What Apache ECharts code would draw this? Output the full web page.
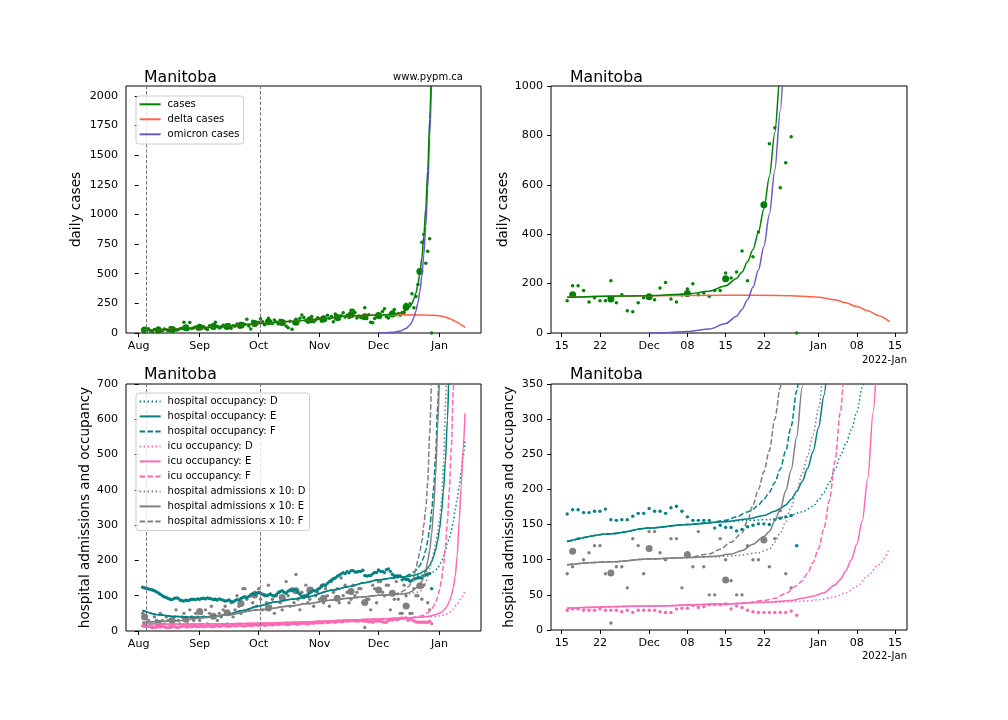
<!DOCTYPE html>
<html><head><meta charset="utf-8">
<script src="https://cdn.jsdelivr.net/npm/echarts@6/dist/echarts.min.js"></script>
<style>html,body{margin:0;padding:0;background:#fff}#c{width:1008px;height:720px}</style>
</head><body><div id="c"></div>
<script>
// day index: 0 = 2021-08-01
const dataStartDay = 2; // 2021-08-03
const rightFromDay = 107; // 2021-11-16

const leftTickDays = [0, 31, 61, 92, 122, 153];
const leftTickLabels = ['Aug', 'Sep', 'Oct', 'Nov', 'Dec', 'Jan'];
const rightTickDays = [106, 113, 122, 129, 136, 143, 153, 160, 167];
const rightTickLabels = ['15', '22', 'Dec', '08', '15', '22', 'Jan', '08', '15'];
const casesTicks = [0, 250, 500, 750, 1000, 1250, 1500, 1750, 2000];
const casesZoomTicks = [0, 200, 400, 600, 800, 1000];
const hospTicks = [0, 100, 200, 300, 400, 500, 600, 700];
const hospZoomTicks = [0, 50, 100, 150, 200, 250, 300, 350];
const vlineDays = [4, 62];

const dailyCases = [
  28,15,22,35,18,12,30,25,40,22,18,33,27,20,45,30,38,25,28,35,40,90,42,30,88,38,45,50,33,
  48,40,55,38,30,62,50,45,90,58,42,50,65,48,55,70,40,62,58,75,50,68,80,72,115,60,34,100,85,78,
  90,120,95,70,85,124,100,80,110,92,75,107,88,95,60,45,100,31,85,115,98,125,152,130,105,90,118,140,95,110,128,
  120,100,135,110,150,125,140,95,160,130,118,145,170,135,150,
  131,191,191,172,126,143,131,131,212,122,155,90,86,122,143,
  150,135,182,204,138,126,154,178,199,155,162,149,172,172,243,223,247,332,212,309,
  409,520,766,831,588,689,795,0];

const hospOccupancy = [
  124,122,121,119,118,116,114,111,108,104,100,97,95,92,90,89,92,94,93,88,86,85,87,86,88,90,90,89,91,
  90,92,93,91,94,92,91,89,90,88,91,89,87,85,86,88,84,82,86,89,88,92,95,97,94,98,103,106,104,107,
  109,107,104,103,100,102,105,101,99,103,108,112,114,110,107,113,116,114,118,116,110,104,98,95,99,103,108,112,115,113,118,
  121,126,131,129,135,140,144,148,150,155,158,162,165,163,168,
  165,171,171,167,167,169,169,172,157,156,157,157,162,166,166,
  173,169,169,166,174,176,169,161,156,156,156,156,145,149,146,146,141,143,147,149,
  151,151,150,157,159,161,163,120];

const icuOccupancy = [
  14,13,12,13,11,12,10,11,12,11,13,12,10,11,12,13,12,11,10,12,13,14,12,11,13,12,14,13,12,
  13,14,12,13,15,14,13,12,14,15,13,14,16,15,14,13,15,16,14,15,17,16,15,14,16,17,15,16,18,17,
  16,17,18,16,17,19,18,17,19,20,18,19,21,20,19,18,20,21,22,20,19,21,22,23,21,20,22,23,22,24,23,
  24,23,25,26,24,25,27,26,25,27,28,26,27,29,28,
  28,30,30,28,28,28,30,28,28,28,26,28,25,28,28,
  28,28,26,25,25,30,31,31,35,32,33,36,36,36,37,30,34,32,28,26,
  25,25,25,25,25,25,27,21];

const hospAdmissionsX10 = [
  50,20,40,30,20,10,40,30,20,50,30,20,40,30,10,30,40,60,30,20,40,50,30,20,60,40,30,50,40,
  30,50,40,60,20,50,70,40,90,30,50,40,60,70,20,50,80,40,60,100,70,50,120,120,90,60,100,80,110,70,
  120,90,60,100,80,130,70,90,50,100,110,80,60,90,140,100,70,120,80,160,90,60,110,100,130,80,90,120,70,100,110,
  90,130,80,120,100,70,140,110,90,120,80,150,100,130,110,
  80,90,130,100,110,120,120,80,10,90,90,60,130,120,80,
  140,140,110,100,130,130,60,110,90,140,90,50,50,130,100,70,50,50,120,100,
  100,130,90,130,170,80,60,null];

const weekDays = [3,10,17,24,31,38,45,52,59,66,73,80,87,94,101,108,115,122,129,136,143];
const weeklyCases = [25,25,30,45,48,55,55,65,80,95,88,90,110,118,130,155,138,147,160,220,519];
const weeklyAdmissionsX10 = [40,22,30,33,55,42,52,78,102,65,95,114,116,93,93,112,81,116,107,71,128];

const casesCurve = [[2,22],[15,30],[31,45],[46,60],[61,80],[76,98],[92,115],[107,145],[122,151],[129,158],[133,169],[136,191],[138,221],[139,247],[140,288],[141,338],[142,408],[143,503],[144,633],[145,812],[146,1052],[147,1372],[148,1802],[149,2352]];
const deltaCurve = [[2,22],[15,30],[31,45],[46,60],[61,80],[76,98],[92,115],[107,145],[122,151],[136,153],[146,152],[150,149],[153,145],[156,135],[158,122],[160,107],[162,90],[164,70],[166,46]];
const omicronCurve = [[122,0.5],[125,1.5],[129,6],[133,16],[136,38],[138,68],[139,95],[140,135],[141,185],[142,255],[143,350],[144,480],[145,660],[146,900],[147,1220],[148,1650],[149,2200]];

const hospBase = [[2,58],[10,46],[19,41],[29,39],[38,41],[44,45],[53,58],[61,71],[70,83],[78,90],[85,96],[99,116],[107,126],[115,137],[122,145],[129,150]];
const hospTailD = [[136,154],[140,156],[144,157],[147,161],[150,168],[152,176],[153,185],[154,196],[155,210],[156,228],[157,248],[158,265],[159,285],[160,310],[161,345],[162,375],[163,410],[164,450],[165,495],[166,541]];
const hospTailE = [[136,154],[140,158],[143,163],[145,169],[146,173],[147,178],[148,186],[149,197],[150,211],[151,230],[152,254],[153,288],[154,334],[155,397],[156,482],[157,597],[158,756],[159,970]];
const hospTailF = [[133,153],[136,156],[138,161],[140,168],[141,172],[142,178],[143,186],[144,196],[145,210],[146,229],[147,255],[148,290],[149,340],[150,405],[151,495],[152,630],[153,800]];

const icuBase = [[2,21],[20,19],[40,20],[61,22],[80,25],[95,28],[107,31],[122,34],[136,37]];
const icuTailD = [[144,39],[150,41],[153,43],[156,47],[158,53],[160,62],[162,77],[164,93],[166,116]];
const icuTailE = [[144,40],[148,42],[150,45],[152,48],[154,53],[156,64],[157,72],[158,84],[159,100],[160,122],[161,155],[162,215],[163,310],[164,410],[165,515],[166,617]];
const icuTailF = [[140,39],[143,42],[145,45],[147,52],[149,63],[150,70],[151,81],[152,96],[153,116],[154,145],[155,185],[156,240],[157,310],[158,400],[159,520],[160,680],[161,880]];

const admBase = [[2,24],[19,29],[36,39],[44,45],[61,60],[78,71],[85,77],[99,88],[107,93],[115,97],[122,101],[129,103]];
const admTailD = [[134,104],[138,106],[142,110],[144,115],[145,125],[146,138],[147,154],[148,175],[149,198],[150,222],[151,248],[152,278],[153,315],[154,370],[155,470],[156,640],[157,870]];
const admTailE = [[134,105],[137,108],[139,113],[141,122],[143,133],[144,140],[145,155],[146,172],[147,198],[148,228],[149,275],[150,345],[151,440],[152,570],[153,740]];
const admTailF = [[133,108],[135,115],[137,125],[139,138],[140,155],[141,178],[142,200],[143,225],[144,255],[145,300],[146,345],[147,420],[148,560],[149,740]];

// ---------------------------------------------------------------
const FONT = 'DejaVu Sans';
const C = {green:'#008000', delta:'#ff6347', omi:'#6a5acd', teal:'#008080', pink:'#ff69b4', grey:'#808080'};
const DOT = [1.5, 2.5], DASH = [5.5, 2.4];

const daily = (arr, from) => arr.map((v, i) => [dataStartDay + i, v]).filter(p => p[1] !== null && p[0] >= from);
const weekly = (vals, from) => weekDays.map((d, i) => [d, vals[i]]).filter(p => p[0] >= from);
const curve = (pts, from) => pts.filter(p => p[0] >= from);

function lineS(name, pts, color, type, ax) {
  const s = {type:'line', data: pts, xAxisIndex: ax, yAxisIndex: ax, symbol:'none', smooth:0.3, smoothMonotone:'x',
    lineStyle:{color, width:1.5, type}, itemStyle:{color}, z:4, silent:true};
  if (name) s.name = name;
  return s;
}
function dotS(pts, color, size, ax, z) {
  return {type:'scatter', data: pts, xAxisIndex: ax, yAxisIndex: ax, symbol:'circle', symbolSize:size,
    itemStyle:{color, opacity:1}, z: z || 3, silent:true};
}
function vlines(ax) {
  return {type:'line', data:[], xAxisIndex: ax, yAxisIndex: ax, silent:true,
    markLine:{silent:true, symbol:['none','none'], label:{show:false}, animation:false,
      lineStyle:{color:'#777', type:[3.5,1.8], width:1}, data: vlineDays.map(d => ({xAxis:d}))}};
}

const tickLabel = {color:'#000', fontSize:11.1, fontFamily:FONT, margin:8};
function xAx(gi, min, max, days, labels) {
  return {type:'value', gridIndex:gi, min, max, axisLine:{show:false},
    axisTick:{show:true, length:4, lineStyle:{color:'#000'}, customValues:days},
    axisLabel:Object.assign({customValues:days, formatter:v => labels[days.indexOf(Math.round(v))] || ''}, tickLabel),
    splitLine:{show:false}};
}
function yAx(gi, max, ticks, name, gap) {
  return {type:'value', gridIndex:gi, min:0, max, axisLine:{show:false},
    axisTick:{show:true, length:4, lineStyle:{color:'#000'}, customValues:ticks},
    axisLabel:Object.assign({customValues:ticks, formatter:v => String(v)}, tickLabel),
    splitLine:{show:false}, name, nameLocation:'middle', nameRotate:90, nameGap:gap,
    nameTextStyle:{fontSize:13.6, color:'#000', fontFamily:FONT}};
}
const gridBox = {show:true, borderColor:'#000', borderWidth:1, backgroundColor:'transparent'};
const titleStyle = {fontSize:15.7, fontWeight:'normal', color:'#000', fontFamily:FONT};
const smallStyle = {fontSize:10, fontWeight:'normal', color:'#000', fontFamily:FONT};
const legendBase = {orient:'vertical', itemWidth:21, itemHeight:10, itemGap:5, selectedMode:false, z:10,
  backgroundColor:'rgba(255,255,255,0.8)', borderColor:'#ccc', borderWidth:1, borderRadius:3,
  itemStyle:{color:'rgba(0,0,0,0)', opacity:0, borderWidth:0},
  lineStyle:{width:2},
  textStyle:{fontSize:10, color:'#000', fontFamily:FONT, padding:[0,0,0,2]}};

const L = -Infinity, R = rightFromDay;
const series = [];
// top-left (0)
series.push(vlines(0));
series.push(dotS(daily(dailyCases, L), C.green, 3.5, 0));
series.push(dotS(weekly(weeklyCases, L), C.green, 7, 0));
series.push(lineS('delta cases', curve(deltaCurve, L), C.delta, 'solid', 0));
series.push(lineS('omicron cases', curve(omicronCurve, L), C.omi, 'solid', 0));
series.push(lineS('cases', curve(casesCurve, L), C.green, 'solid', 0));
// top-right (1)
series.push(dotS(daily(dailyCases, R), C.green, 3.5, 1));
series.push(dotS(weekly(weeklyCases, R), C.green, 7, 1));
series.push(lineS(null, curve(deltaCurve, R), C.delta, 'solid', 1));
series.push(lineS(null, curve(omicronCurve, R), C.omi, 'solid', 1));
series.push(lineS(null, curve(casesCurve, R), C.green, 'solid', 1));
// bottom panels
function hospPanel(ax, from, named) {
  const n = s => named ? s : null;
  series.push(dotS(daily(hospAdmissionsX10, from), C.grey, 3.4, ax));
  series.push(dotS(weekly(weeklyAdmissionsX10, from), C.grey, 7, ax));
  series.push(dotS(daily(icuOccupancy, from), C.pink, 3.4, ax));
  series.push(dotS(daily(hospOccupancy, from), C.teal, 3.4, ax));
  series.push(lineS(n('hospital occupancy: D'), curve(hospBase.concat(hospTailD), from), C.teal, DOT, ax));
  series.push(lineS(n('hospital occupancy: E'), curve(hospBase.concat(hospTailE), from), C.teal, 'solid', ax));
  series.push(lineS(n('hospital occupancy: F'), curve(hospBase.concat(hospTailF), from), C.teal, DASH, ax));
  series.push(lineS(n('icu occupancy: D'), curve(icuBase.concat(icuTailD), from), C.pink, DOT, ax));
  series.push(lineS(n('icu occupancy: E'), curve(icuBase.concat(icuTailE), from), C.pink, 'solid', ax));
  series.push(lineS(n('icu occupancy: F'), curve(icuBase.concat(icuTailF), from), C.pink, DASH, ax));
  series.push(lineS(n('hospital admissions x 10: D'), curve(admBase.concat(admTailD), from), C.grey, DOT, ax));
  series.push(lineS(n('hospital admissions x 10: E'), curve(admBase.concat(admTailE), from), C.grey, 'solid', ax));
  series.push(lineS(n('hospital admissions x 10: F'), curve(admBase.concat(admTailF), from), C.grey, DASH, ax));
}
series.push(vlines(2));
hospPanel(2, L, true);
hospPanel(3, R, false);

const option = {
  animation:false,
  backgroundColor:'#fff',
  grid:[
    Object.assign({left:126, top:86, width:355, height:247}, gridBox),
    Object.assign({left:551, top:86, width:356, height:247}, gridBox),
    Object.assign({left:126, top:384, width:355, height:247}, gridBox),
    Object.assign({left:551, top:384, width:356, height:246}, gridBox)
  ],
  xAxis:[
    xAx(0, -6.45, 174.1, leftTickDays, leftTickLabels),
    xAx(1, 104.04, 169.19, rightTickDays, rightTickLabels),
    xAx(2, -6.45, 174.1, leftTickDays, leftTickLabels),
    xAx(3, 104.04, 169.19, rightTickDays, rightTickLabels)
  ],
  yAxis:[
    yAx(0, 2084, casesTicks, 'daily cases', 43),
    yAx(1, 1000, casesZoomTicks, 'daily cases', 41),
    yAx(2, 700, hospTicks, 'hospital admissions and occupancy', 34),
    yAx(3, 350, hospZoomTicks, 'hospital admissions and occupancy', 35)
  ],
  title:[
    {text:'Manitoba', left:144, top:70, padding:0, textStyle:titleStyle},
    {text:'Manitoba', left:570, top:70, padding:0, textStyle:titleStyle},
    {text:'Manitoba', left:144, top:367, padding:0, textStyle:titleStyle},
    {text:'Manitoba', left:570, top:367, padding:0, textStyle:titleStyle},
    {text:'www.pypm.ca', right:545, top:72, padding:0, textStyle:smallStyle},
    {text:'2022-Jan', right:101, top:355, padding:0, textStyle:smallStyle},
    {text:'2022-Jan', right:101, top:651, padding:0, textStyle:smallStyle}
  ],
  legend:[
    Object.assign({left:136, top:96, padding:[3.3,4,4.7,2.6],
      data:['cases','delta cases','omicron cases']}, legendBase),
    Object.assign({left:136, top:393, padding:[3.4,4,4.3,2.6],
      data:['hospital occupancy: D','hospital occupancy: E','hospital occupancy: F',
            'icu occupancy: D','icu occupancy: E','icu occupancy: F',
            'hospital admissions x 10: D','hospital admissions x 10: E','hospital admissions x 10: F']}, legendBase)
  ],
  series
};
const chart = echarts.init(document.getElementById('c'), null, {renderer:'canvas'});
chart.setOption(option);
</script>
</body></html>
